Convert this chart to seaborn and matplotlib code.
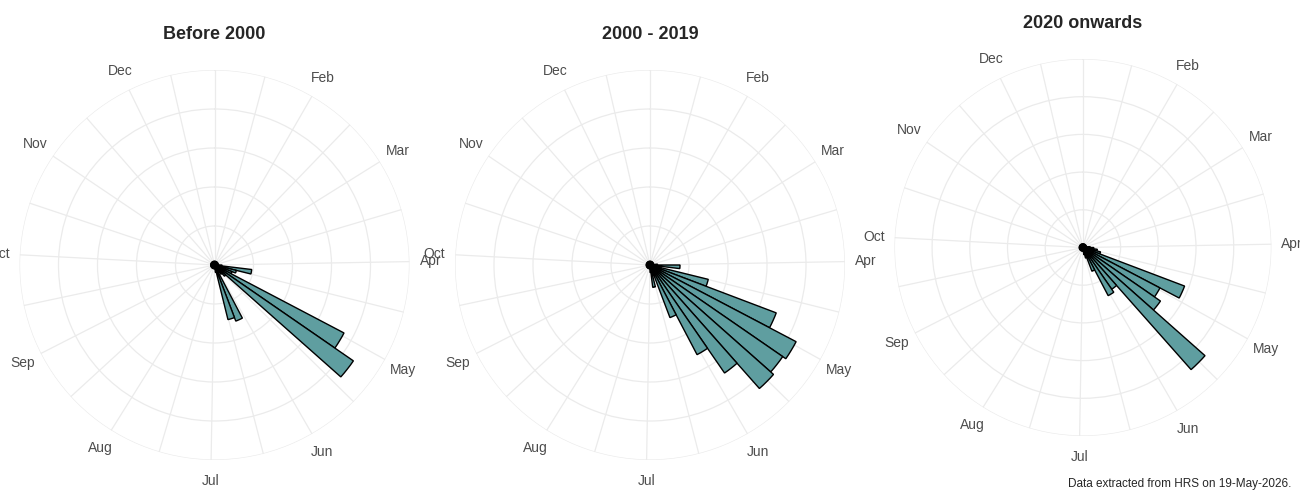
import numpy as np
import matplotlib
matplotlib.use("Agg")
import matplotlib.pyplot as plt
import seaborn as sns

sns.set_theme(style="white")
plt.rcParams['font.family'] = ['Liberation Sans', 'DejaVu Sans']

titles = ["Before 2000", "2000 - 2019", "2020 onwards"]
months = ["Feb", "Mar", "Apr", "May", "Jun", "Jul", "Aug", "Sep", "Oct", "Nov", "Dec"]
month_angles = [30, 58, 89, 119, 150, 181, 212, 243, 273, 304, 334]
weeks = list(range(52))

before_2000 = [1, 1, 1, 1, 1, 1, 1, 1, 1, 1, 1, 1, 1, 2, 10, 6, 5, 39, 45, 4, 3, 2,
               16, 15, 2, 1, 1, 1, 1, 1, 1, 1, 1, 1, 1, 1, 1, 1, 1, 1, 1, 1, 1, 1,
               1, 1, 1, 1, 1, 1, 1, 1]
y2000_2019 = [1, 1, 1, 1, 1, 1, 1, 1, 1, 1, 1, 1, 2, 8, 3, 16, 36, 44, 43, 44, 35, 27,
              15, 3, 6, 2, 1, 1, 1, 1, 1, 1, 1, 1, 1, 1, 1, 1, 1, 1, 1, 1, 1, 1,
              1, 1, 1, 1, 1, 1, 1, 1]
from_2020 = [1, 1, 1, 1, 1, 1, 1, 1, 1, 1, 1, 1, 2, 3, 4, 5, 30, 24, 26, 45, 14, 15,
             7, 3, 2, 1, 1, 1, 1, 1, 1, 1, 1, 1, 1, 1, 1, 1, 1, 1, 1, 1, 1, 1,
             1, 1, 1, 1, 1, 1, 1, 1]
series = [before_2000, y2000_2019, from_2020]

fig = plt.figure(figsize=(13, 5), dpi=100)
positions = [[0.015, 0.08, 0.30, 0.78], [0.35, 0.08, 0.30, 0.78], [0.688, 0.125, 0.29, 0.76]]
w = 2 * np.pi / 52
for i in range(3):
    ax = fig.add_axes(positions[i], projection='polar')
    ax.set_theta_zero_location('N')
    ax.set_theta_direction(-1)
    theta = (np.array(weeks) + 0.5) * w
    ax.bar(theta, series[i], width=w, color='#5f9ea0', edgecolor='black', linewidth=1.0, align='center')
    ax.set_ylim(0, 52)
    ax.set_yticks([10.4, 20.8, 31.2, 41.6, 52])
    ax.set_yticklabels([])
    ax.set_xticks(np.deg2rad(month_angles))
    ax.set_xticklabels(months, color='#4d4d4d', fontsize=10)
    minor = np.concatenate([[0], (np.array([0] + month_angles) + np.array(month_angles + [360])) / 2])
    ax.set_xticks(np.deg2rad(minor), minor=True)
    ax.grid(True, which='both', color='#ebebeb', linewidth=0.9)
    ax.tick_params(axis='x', pad=2)
    ax.spines['polar'].set_visible(False)
    ax.set_title(titles[i], fontsize=13, fontweight='bold', pad=22)

fig.text(0.993, 0.025, "Data extracted from HRS on 19-May-2026.", ha='right', fontsize=8.5)
fig.savefig("out.png", dpi=100, facecolor='white')
